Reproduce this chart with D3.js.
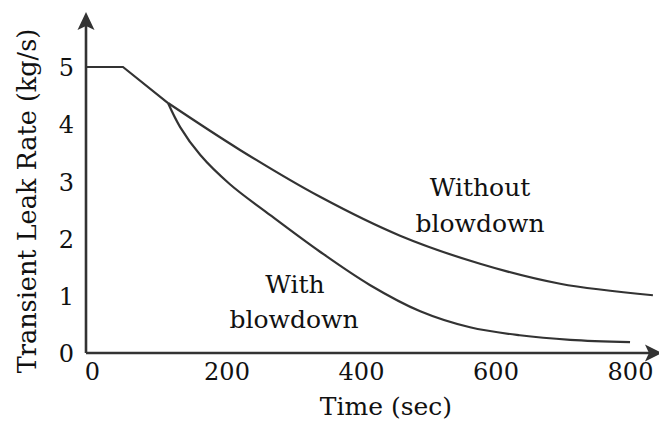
<!DOCTYPE html>
<html>
<head>
<meta charset="utf-8">
<script src="https://cdn.jsdelivr.net/npm/d3@7"></script>
<style>
body { margin: 0; background: #fff; }
text { font-family: "DejaVu Serif", serif; fill: #111; }
</style>
</head>
<body>
<div id="chart"></div>
<script>
const w = 659;
const h = 428;

// shared part: flat at 5 kg/s, then a straight drop to the split point
const plateauTime = [0, 55, 122];
const plateauRate = [5.0, 5.0, 4.37];

// after the split
const withoutTime = [122, 229, 348, 467, 586, 705, 843];
const withoutRate = [4.37, 3.55, 2.73, 2.05, 1.56, 1.21, 1.01];

const withTime = [122, 140, 170, 214, 274, 348, 422, 497, 571, 645, 720, 809];
const withRate = [4.37, 3.95, 3.46, 2.95, 2.41, 1.77, 1.19, 0.73, 0.45, 0.31, 0.23, 0.19];

const xTicks = [0, 200, 400, 600, 800];
const yTicks = [0, 1, 2, 3, 4, 5];

const xMax = 852;
const yMax = 5.96;
const ink = '#333';

const svg = d3.select('#chart')
.append('svg')
.attr('width', w)
.attr('height', h);

const xScale = d3.scaleLinear().domain([0, 800]).range([86, 624]);
const yScale = d3.scaleLinear().domain([0, 5]).range([353, 67]);

//Axes (labels only, lines drawn below with arrows)
const xAxis = d3.axisBottom(xScale).tickValues(xTicks).tickSize(0).tickPadding(0);
const gx = svg.append('g')
.attr('transform', `translate(0,${yScale(0)})`)
.call(xAxis);
gx.select('.domain').remove();
gx.selectAll('text')
.attr('dx', 6)
.attr('y', 27)
.attr('dy', 0)
.style('font-size', '24px');

const yAxis = d3.axisLeft(yScale).tickValues(yTicks).tickFormat(d3.format('d'))
.tickSize(0).tickPadding(12);
const gy = svg.append('g')
.attr('transform', `translate(${xScale(0)},0)`)
.call(yAxis);
gy.select('.domain').remove();
gy.selectAll('text')
.attr('dy', '0.36em')
.style('font-size', '24px');

//Axis lines with arrow heads
const x0 = xScale(0), y0 = yScale(0);
const xEnd = xScale(xMax), yEnd = yScale(yMax);
svg.append('line')
.attr('x1', x0).attr('y1', y0).attr('x2', xEnd - 8).attr('y2', y0)
.attr('stroke', ink).attr('stroke-width', 2.6);
svg.append('line')
.attr('x1', x0).attr('y1', y0).attr('x2', x0).attr('y2', yEnd + 8)
.attr('stroke', ink).attr('stroke-width', 2.6);
svg.append('path')
.attr('d', `M${xEnd + 3},${y0} L${xEnd - 14},${y0 - 8.5} L${xEnd - 10},${y0} L${xEnd - 14},${y0 + 8.5} Z`)
.attr('fill', ink);
svg.append('path')
.attr('d', `M${x0},${yEnd} L${x0 - 8.5},${yEnd + 18} L${x0},${yEnd + 14} L${x0 + 8.5},${yEnd + 18} Z`)
.attr('fill', ink);

//Curves
const straight = d3.line()
.x(d => xScale(d[0]))
.y(d => yScale(d[1]));
const smooth = d3.line()
.x(d => xScale(d[0]))
.y(d => yScale(d[1]))
.curve(d3.curveCatmullRom.alpha(0.5));

svg.append('path')
.datum(plateauTime.map((t, i) => [t, plateauRate[i]]))
.attr('d', straight)
.attr('fill', 'none').attr('stroke', ink).attr('stroke-width', 2.2);
svg.append('path')
.datum(withoutTime.map((t, i) => [t, withoutRate[i]]))
.attr('d', smooth)
.attr('fill', 'none').attr('stroke', ink).attr('stroke-width', 2.2);
svg.append('path')
.datum(withTime.map((t, i) => [t, withRate[i]]))
.attr('d', smooth)
.attr('fill', 'none').attr('stroke', ink).attr('stroke-width', 2.2);

//Curve labels
const note = (x, y, s) => svg.append('text')
.attr('x', x).attr('y', y)
.attr('text-anchor', 'middle')
.style('font-size', '25px')
.text(s);
note(480, 196, 'Without');
note(480, 232, 'blowdown');
note(295, 293, 'With');
note(294, 328, 'blowdown');

//Axis titles
svg.append('text')
.attr('x', 386).attr('y', 415)
.attr('text-anchor', 'middle')
.style('font-size', '25px')
.text('Time (sec)');
svg.append('text')
.attr('transform', 'translate(36,201) rotate(-90)')
.attr('text-anchor', 'middle')
.style('font-size', '25.5px')
.text('Transient Leak Rate (kg/s)');
</script>
</body>
</html>
